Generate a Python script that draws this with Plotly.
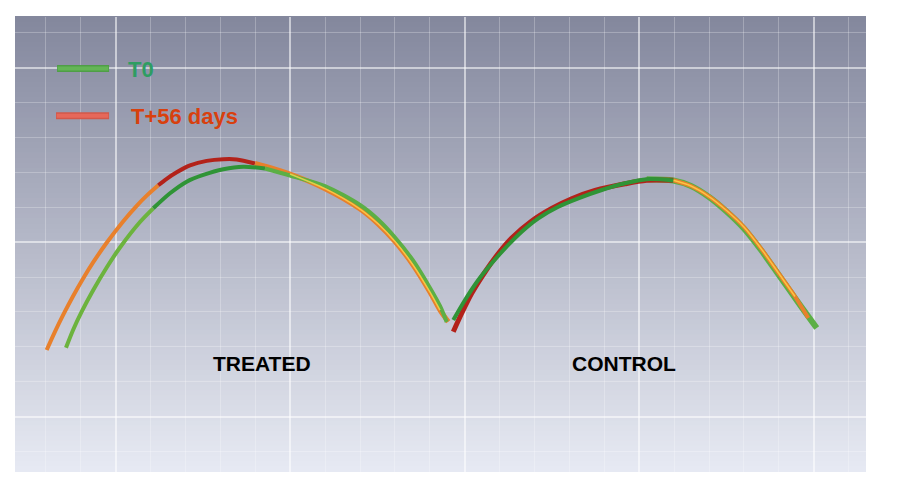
import plotly.graph_objects as go

# ---- data (grid units, 1 unit = one minor grid cell) ----
treated_t0_x = [-1.424, -1.215, -0.974, -0.642, -0.258, 0.123, 0.696, 1.077, 1.556, 2.034, 2.510, 3.083,
                3.656, 4.278, 4.994, 5.997, 7.000, 7.516, 8.003, 8.519, 9.006, 9.292, 9.484]
treated_t0_y = [1.977, 2.499, 3.009, 3.630, 4.275, 4.848, 5.579, 5.971, 6.401, 6.734, 6.926, 7.089,
                7.163, 7.112, 6.911, 6.610, 6.066, 5.650, 5.135, 4.476, 3.688, 3.172, 2.713]

treated_t56_x = [-1.977, -1.739, -1.501, -1.215, -0.928, -0.642, -0.258, 0.218, 0.602, 0.888, 1.221, 1.461,
                 1.748, 2.129, 2.607, 3.083, 3.467, 3.991, 4.994, 5.997, 7.000, 7.516, 8.003, 8.519,
                 9.006, 9.292, 9.530]
treated_t56_y = [1.911, 2.436, 2.923, 3.467, 3.968, 4.427, 4.983, 5.602, 6.043, 6.335, 6.633, 6.817,
                 7.003, 7.201, 7.330, 7.378, 7.372, 7.255, 6.954, 6.533, 5.951, 5.527, 5.017, 4.347,
                 3.567, 3.052, 2.719]

control_t0_x = [9.673, 10.009, 10.390, 10.774, 11.155, 11.633, 12.109, 12.682, 13.255, 13.926, 14.593,
                15.215, 15.977, 16.484, 17.000, 17.487, 18.000, 18.490, 19.000, 19.607, 20.086]
control_t0_y = [2.771, 3.344, 3.917, 4.395, 4.825, 5.301, 5.685, 6.017, 6.258, 6.496, 6.688,
                6.805, 6.768, 6.610, 6.295, 5.894, 5.393, 4.777, 4.060, 3.201, 2.542]

control_t56_x = [9.673, 9.914, 10.201, 10.582, 10.963, 11.347, 11.920, 12.493, 13.066, 13.734, 14.593,
                 15.215, 15.977, 16.484, 17.000, 17.487, 18.000, 18.490, 19.000, 19.464, 19.845]
control_t56_y = [2.436, 2.963, 3.536, 4.146, 4.676, 5.120, 5.607, 5.966, 6.244, 6.481, 6.673,
                 6.774, 6.774, 6.610, 6.309, 5.923, 5.436, 4.819, 4.103, 3.444, 2.828]

series_names = ["T0", "T+56 days"]
group_labels = ["TREATED", "CONTROL"]
group_label_x = [4.206, 14.565]
group_label_y = [1.53, 1.53]

# ---- styles ----
GREEN_L = "#6cb33e"
GREEN_D = "#2f9436"
GREEN_M = "#5caf45"
RED = "#b3221a"
ORANGE = "#e8802c"
YELLOW = "#ffd84a"

fig = go.Figure()


def seg(xs, ys, i0, i1, color, width, opacity=1.0):
    fig.add_trace(go.Scatter(
        x=xs[i0:i1 + 1], y=ys[i0:i1 + 1], mode="lines",
        line=dict(color=color, width=width, shape="spline", smoothing=0.8),
        opacity=opacity, showlegend=False, hoverinfo="skip"))


# Treated, T+56 days
seg(treated_t56_x, treated_t56_y, 0, 10, ORANGE, 4)
seg(treated_t56_x, treated_t56_y, 10, 17, RED, 4)
seg(treated_t56_x, treated_t56_y, 17, 26, ORANGE, 5)
# Treated, T0
seg(treated_t0_x, treated_t0_y, 0, 7, GREEN_L, 4)
seg(treated_t0_x, treated_t0_y, 7, 13, GREEN_D, 4)
seg(treated_t0_x, treated_t0_y, 13, 22, GREEN_M, 4)
seg(treated_t56_x, treated_t56_y, 18, 25, YELLOW, 1.5, 0.8)

# Control, T0 (right half under the T+56 line)
seg(control_t0_x, control_t0_y, 11, 20, GREEN_M, 6)
# Control, T+56 days
seg(control_t56_x, control_t56_y, 0, 12, RED, 5)
seg(control_t56_x, control_t56_y, 12, 20, ORANGE, 4)
seg(control_t56_x, control_t56_y, 12, 19, YELLOW, 1.5, 0.8)
# Control, T0 (left half above)
seg(control_t0_x, control_t0_y, 0, 12, GREEN_D, 4)

# ---- background gradient (plot area) ----
top = (131, 135, 157)
bot = (231, 234, 243)
N = 90
shapes = []
for i in range(N):
    t = (i + 0.5) / N
    c = tuple(int(round(top[k] + (bot[k] - top[k]) * t)) for k in range(3))
    shapes.append(dict(type="rect", xref="paper", yref="paper",
                       x0=0, x1=1, y0=1 - (i + 1) / N, y1=1 - i / N + 0.002,
                       fillcolor="rgb(%d,%d,%d)" % c, line=dict(width=0),
                       layer="below"))

# custom legend samples
shapes.append(dict(type="line", xref="x", yref="y", x0=-1.68, x1=-0.19, y0=9.98, y1=9.98,
                   line=dict(color="#4f9e47", width=7), layer="above"))
shapes.append(dict(type="line", xref="x", yref="y", x0=-1.66, x1=-0.21, y0=9.98, y1=9.98,
                   line=dict(color="#64b556", width=4), layer="above"))
shapes.append(dict(type="line", xref="x", yref="y", x0=-1.71, x1=-0.19, y0=8.62, y1=8.62,
                   line=dict(color="#d2584a", width=7), layer="above"))
shapes.append(dict(type="line", xref="x", yref="y", x0=-1.69, x1=-0.21, y0=8.62, y1=8.62,
                   line=dict(color="#e6685a", width=4), layer="above"))

annotations = [
    dict(x=0.295, y=9.95, xref="x", yref="y", text="<b>" + series_names[0] + "</b>",
         showarrow=False, xanchor="left", yanchor="middle",
         font=dict(family="Liberation Sans, Arial", size=22, color="#2e9d62")),
    dict(x=0.381, y=8.60, xref="x", yref="y", text="<b>" + series_names[1] + "</b>",
         showarrow=False, xanchor="left", yanchor="middle",
         font=dict(family="Liberation Sans, Arial", size=22, color="#d8400e")),
]
for lab, lx, ly in zip(group_labels, group_label_x, group_label_y):
    annotations.append(dict(x=lx, y=ly, xref="x", yref="y", text="<b>" + lab + "</b>",
                            showarrow=False, xanchor="center", yanchor="middle",
                            font=dict(family="Liberation Sans, Arial", size=21, color="#000000")))

grid_major = "rgba(255,255,255,0.55)"
grid_minor = "rgba(255,255,255,0.25)"
axis_common = dict(showticklabels=False, ticks="", zeroline=False, showline=False,
                   dtick=5, tick0=0, showgrid=True, gridcolor=grid_major, gridwidth=2,
                   minor=dict(dtick=1, tick0=0, showgrid=True, gridcolor=grid_minor, gridwidth=1),
                   fixedrange=True)

fig.update_layout(
    width=917, height=497,
    margin=dict(l=15, r=51, t=17, b=25),
    paper_bgcolor="white", plot_bgcolor="rgba(0,0,0,0)",
    xaxis=dict(range=[-2.885, 21.498], **axis_common),
    yaxis=dict(range=[-1.585, 11.453], **axis_common),
    shapes=shapes, annotations=annotations, showlegend=False,
)

fig.write_html("out.html", config={"displayModeBar": False})
